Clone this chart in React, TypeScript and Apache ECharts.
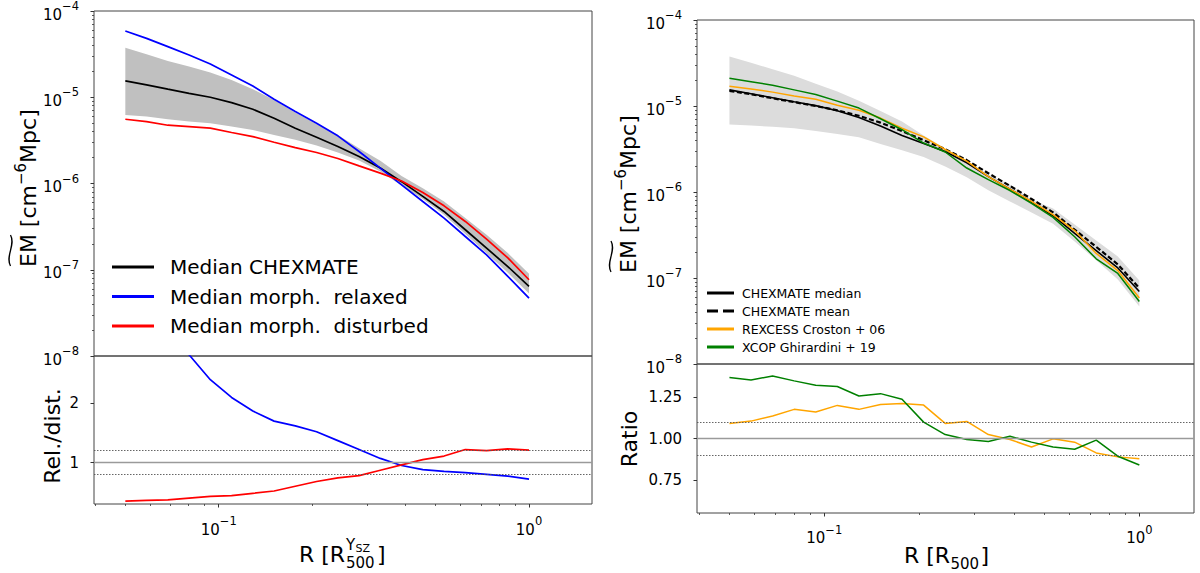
import React, { useEffect, useRef } from 'react';
import * as echarts from 'echarts';

// ---------------- data ----------------
const R_BINS = [0.05, 0.05854, 0.06854, 0.08024, 0.09395, 0.11, 0.1288, 0.1508, 0.1765, 0.2067, 0.242, 0.2833, 0.3317, 0.3884, 0.4547, 0.5324, 0.6233, 0.7298, 0.8545, 1.0];

// left panel, R in R500^YSZ
const L_MEDIAN = [1.55e-5, 1.39e-5, 1.24e-5, 1.11e-5, 1.0e-5, 8.67e-6, 7.26e-6, 5.71e-6, 4.38e-6, 3.44e-6, 2.69e-6, 2.06e-6, 1.51e-6, 1.05e-6, 7.1e-7, 4.74e-7, 2.91e-7, 1.78e-7, 1.09e-7, 6.41e-8];
const L_RELAXED = [5.86e-5, 4.82e-5, 3.86e-5, 3.09e-5, 2.43e-5, 1.81e-5, 1.35e-5, 9.48e-6, 6.83e-6, 5.0e-6, 3.57e-6, 2.35e-6, 1.51e-6, 9.66e-7, 6.19e-7, 3.97e-7, 2.43e-7, 1.49e-7, 8.37e-8, 4.7e-8];
const L_DISTURBED = [5.56e-6, 5.22e-6, 4.74e-6, 4.57e-6, 4.38e-6, 3.9e-6, 3.5e-6, 3.01e-6, 2.61e-6, 2.29e-6, 1.95e-6, 1.6e-6, 1.32e-6, 1.07e-6, 7.87e-7, 5.51e-7, 3.63e-7, 2.27e-7, 1.37e-7, 7.66e-8];
const L_BAND_HI = [3.76e-5, 3.15e-5, 2.64e-5, 2.27e-5, 1.93e-5, 1.59e-5, 1.24e-5, 9.32e-6, 6.64e-6, 4.91e-6, 3.66e-6, 2.57e-6, 1.83e-6, 1.22e-6, 8.83e-7, 6.19e-7, 3.97e-7, 2.54e-7, 1.56e-7, 9.0e-8];
const L_BAND_LO = [6.24e-6, 5.97e-6, 5.56e-6, 5.22e-6, 5.0e-6, 4.57e-6, 4.18e-6, 3.66e-6, 3.21e-6, 2.76e-6, 2.29e-6, 1.85e-6, 1.38e-6, 9.5e-7, 6.6e-7, 4.35e-7, 2.6e-7, 1.55e-7, 9.2e-8, 5.3e-8];
const L_RATIO_RELAXED = [3.78, 3.47, 3.11, 2.82, 2.4, 2.1, 1.87, 1.7, 1.62, 1.52, 1.37, 1.22, 1.07, 0.95, 0.88, 0.85, 0.83, 0.8, 0.77, 0.72];
const L_RATIO_DISTURBED = [0.35, 0.36, 0.37, 0.4, 0.43, 0.44, 0.48, 0.52, 0.6, 0.68, 0.74, 0.78, 0.87, 0.96, 1.05, 1.11, 1.22, 1.2, 1.23, 1.21];

// right panel, R in R500
const R_MEDIAN = [1.54e-5, 1.39e-5, 1.25e-5, 1.12e-5, 1.01e-5, 8.81e-6, 7.36e-6, 5.87e-6, 4.55e-6, 3.67e-6, 2.96e-6, 2.19e-6, 1.51e-6, 1.08e-6, 7.64e-7, 5.3e-7, 3.3e-7, 2.08e-7, 1.31e-7, 6.97e-8];
const R_MEAN = [1.5e-5, 1.37e-5, 1.23e-5, 1.11e-5, 1.0e-5, 8.9e-6, 7.7e-6, 6.4e-6, 5.1e-6, 4.0e-6, 3.15e-6, 2.35e-6, 1.65e-6, 1.18e-6, 8.3e-7, 5.8e-7, 3.65e-7, 2.3e-7, 1.44e-7, 7.6e-8];
const R_REXCESS = [1.7e-5, 1.58e-5, 1.45e-5, 1.31e-5, 1.2e-5, 1.02e-5, 8.93e-6, 7.24e-6, 5.52e-6, 4.37e-6, 3.12e-6, 2.29e-6, 1.51e-6, 1.08e-6, 7.8e-7, 5.47e-7, 3.56e-7, 1.93e-7, 1.22e-7, 5.85e-8];
const R_XCOP = [2.1e-5, 1.92e-5, 1.74e-5, 1.54e-5, 1.36e-5, 1.14e-5, 9.46e-6, 7.11e-6, 5.3e-6, 3.71e-6, 2.92e-6, 1.9e-6, 1.39e-6, 1.04e-6, 7.39e-7, 5.07e-7, 3.02e-7, 1.67e-7, 1.13e-7, 5.33e-8];
const R_BAND_HI = [3.77e-5, 3.19e-5, 2.67e-5, 2.25e-5, 1.81e-5, 1.47e-5, 1.15e-5, 8.77e-6, 6.6e-6, 4.54e-6, 3.21e-6, 2.26e-6, 1.6e-6, 1.22e-6, 8.18e-7, 6.43e-7, 4.19e-7, 2.73e-7, 1.78e-7, 9.35e-8];
const R_BAND_LO = [6.1e-6, 5.93e-6, 5.74e-6, 5.52e-6, 5.12e-6, 4.72e-6, 4.34e-6, 3.62e-6, 3.05e-6, 2.56e-6, 1.98e-6, 1.48e-6, 1.05e-6, 7.78e-7, 5.78e-7, 4.26e-7, 2.65e-7, 1.61e-7, 9.62e-8, 4.67e-8];
const R_RATIO_REXCESS = [1.091, 1.105, 1.136, 1.176, 1.16, 1.2, 1.176, 1.206, 1.211, 1.202, 1.091, 1.103, 1.024, 0.994, 0.949, 0.998, 0.978, 0.913, 0.889, 0.877];
const R_RATIO_XCOP = [1.368, 1.354, 1.377, 1.348, 1.322, 1.314, 1.257, 1.271, 1.237, 1.099, 1.024, 0.994, 0.982, 1.014, 0.978, 0.949, 0.935, 0.99, 0.893, 0.84];

// ticks
const X_MAJOR = [0.1, 1];
const X_MINOR = [0.04, 0.05, 0.06, 0.07, 0.08, 0.09, 0.2, 0.3, 0.4, 0.5, 0.6, 0.7, 0.8, 0.9];
const Y_EXPONENTS = [-8, -7, -6, -5, -4];
const MINOR_MULTS = [2, 3, 4, 5, 6, 7, 8, 9];
const L_RATIO_TICKS = [1, 2];
const R_RATIO_TICKS = [0.75, 1.0, 1.25];
const REF_LINES = [1.0];
const L_BOUNDS = [1.2, 0.8];
const R_BOUNDS = [1.1, 0.9];

// ---------------- helpers ----------------
const FONT = 'DejaVu Sans';
const lg = Math.log10;
const MINUS = '\u2212';

const seriesPts = (ys: number[], logY: boolean) => R_BINS.map((r, i) => [lg(r), logY ? lg(ys[i]) : ys[i]]);

const yMinor: number[] = [];
for (const e of Y_EXPONENTS.slice(0, -1)) for (const m of MINOR_MULTS) yMinor.push(e + lg(m));

const powRich = {
  b: { fontSize: 15, lineHeight: 22, verticalAlign: 'bottom', fontFamily: FONT, color: '#000' },
  s: { fontSize: 11.5, lineHeight: 11.5, verticalAlign: 'top', fontFamily: FONT, color: '#000' },
};
const powFmt = (v: number) => {
  const e = Math.round(v);
  return `{b|10}{s|${e < 0 ? MINUS : ''}${Math.abs(e)}}`;
};

const TICK_COLOR = '#333';
const LABEL_MARGIN = 15;

function xAxesFor(grid: number, min: number, max: number, labels: boolean, margin: number) {
  const base = {
    type: 'value', gridIndex: grid, min, max, position: 'bottom',
    axisLine: { show: false, onZero: false }, splitLine: { show: false },
  };
  if (!labels) {
    return [{ ...base, axisTick: { show: false }, axisLabel: { show: false } }];
  }
  return [
    {
      ...base,
      axisTick: { show: true, length: 3.5, lineStyle: { color: TICK_COLOR, width: 1 }, customValues: X_MAJOR.map(lg) },
      axisLabel: { show: true, customValues: X_MAJOR.map(lg), formatter: powFmt, rich: powRich, margin, showMinLabel: true, showMaxLabel: true },
    },
    {
      ...base,
      axisTick: { show: true, length: 2, lineStyle: { color: TICK_COLOR, width: 0.8 }, customValues: X_MINOR.map(lg) },
      axisLabel: { show: false },
    },
  ];
}

function logYAxes(grid: number, margin: number) {
  return [
    {
      type: 'value', gridIndex: grid, min: -8, max: -4, interval: 1, position: 'left',
      axisLine: { show: false, onZero: false }, splitLine: { show: false },
      axisTick: { show: true, length: 3.5, lineStyle: { color: TICK_COLOR, width: 1 }, customValues: Y_EXPONENTS },
      axisLabel: { show: true, customValues: Y_EXPONENTS, formatter: powFmt, rich: powRich, margin, showMinLabel: true, showMaxLabel: true },
    },
    {
      type: 'value', gridIndex: grid, min: -8, max: -4, interval: 1, position: 'left', offset: 0,
      axisLine: { show: false, onZero: false }, splitLine: { show: false },
      axisTick: { show: true, length: 2, lineStyle: { color: TICK_COLOR, width: 0.8 }, customValues: yMinor },
      axisLabel: { show: false },
    },
  ];
}

function linYAxis(grid: number, min: number, max: number, ticks: number[], fmt: (v: number) => string, margin: number) {
  return {
    type: 'value', gridIndex: grid, min, max, position: 'left',
    axisLine: { show: false, onZero: false }, splitLine: { show: false },
    axisTick: { show: true, length: 3.5, lineStyle: { color: TICK_COLOR, width: 1 }, customValues: ticks },
    axisLabel: {
      show: true, customValues: ticks, formatter: fmt, margin,
      fontSize: 15, fontFamily: FONT, color: '#000', showMinLabel: true, showMaxLabel: true,
    },
  };
}

function lineSeries(name: string, data: number[][], color: string, xi: number, yi: number, width: number, extra: any = {}) {
  return {
    type: 'line', name, data, xAxisIndex: xi, yAxisIndex: yi,
    symbol: 'none', showSymbol: false, silent: true, clip: true, z: 3,
    lineStyle: { color, width, ...(extra.lineStyle || {}) },
    itemStyle: { color },
    ...Object.fromEntries(Object.entries(extra).filter(([k]) => k !== 'lineStyle')),
  };
}

function bandSeries(hi: number[], lo: number[], color: string, xi: number, yi: number) {
  return {
    type: 'custom', name: 'band', xAxisIndex: xi, yAxisIndex: yi, silent: true, z: 1,
    data: R_BINS.map((r, i) => [lg(r), lg(hi[i]), lg(lo[i])]),
    encode: { x: 0, y: [1, 2] },
    renderItem: (params: any, api: any) => {
      if (params.dataIndex !== 0) return null;
      const top = R_BINS.map((r, i) => api.coord([lg(r), lg(hi[i])]));
      const bot = R_BINS.map((r, i) => api.coord([lg(r), lg(lo[i])])).reverse();
      return { type: 'polygon', shape: { points: top.concat(bot) }, style: { fill: color } };
    },
  };
}

function refMarks(bounds: number[]) {
  return {
    symbol: ['none', 'none'], silent: true, label: { show: false }, animation: false,
    data: [
      ...REF_LINES.map((v) => ({ yAxis: v, lineStyle: { color: '#9a9a9a', width: 1.3, type: 'solid' } })),
      ...bounds.map((v) => ({ yAxis: v, lineStyle: { color: '#555', width: 0.9, type: [1.5, 1.5] } })),
    ],
  };
}

function buildOption() {
  const LX = [-1.402, 0.203];
  const RX = [-1.404, 0.1735];
  const grids = [
    { left: 94, top: 11, width: 498, height: 345 },
    { left: 94, top: 356, width: 498, height: 148 },
    { left: 697, top: 20, width: 497, height: 344 },
    { left: 697, top: 364, width: 497, height: 149 },
  ].map((g) => ({ ...g, show: true, borderColor: '#444', borderWidth: 1, backgroundColor: 'transparent', containLabel: false, outerBoundsMode: 'none' }));

  // x axes: 0 (grid0), 1-2 (grid1), 3 (grid2), 4-5 (grid3)
  const xAxis = [
    ...xAxesFor(0, LX[0], LX[1], false, 0),
    ...xAxesFor(1, LX[0], LX[1], true, 11),
    ...xAxesFor(2, RX[0], RX[1], false, 0),
    ...xAxesFor(3, RX[0], RX[1], true, 10.5),
  ];
  // y axes: 0-1 (grid0), 2 (grid1), 3-4 (grid2), 5 (grid3)
  const yAxis = [
    ...logYAxes(0, LABEL_MARGIN),
    linYAxis(1, 0.3, 2.8, L_RATIO_TICKS, (v) => String(Math.round(v)), LABEL_MARGIN),
    ...logYAxes(2, LABEL_MARGIN),
    linYAxis(3, 0.55, 1.45, R_RATIO_TICKS, (v) => v.toFixed(2), LABEL_MARGIN),
  ];

  const series = [
    bandSeries(L_BAND_HI, L_BAND_LO, '#c0c0c0', 0, 0),
    lineSeries('Median CHEXMATE', seriesPts(L_MEDIAN, true), '#000000', 0, 0, 1.7),
    lineSeries('Median morph.  relaxed', seriesPts(L_RELAXED, true), '#0000ff', 0, 0, 1.7),
    lineSeries('Median morph.  disturbed', seriesPts(L_DISTURBED, true), '#ff0000', 0, 0, 1.7),

    lineSeries('Relaxed / median', seriesPts(L_RATIO_RELAXED, false), '#0000ff', 1, 2, 1.7, { markLine: refMarks(L_BOUNDS) }),
    lineSeries('Disturbed / median', seriesPts(L_RATIO_DISTURBED, false), '#ff0000', 1, 2, 1.7),

    bandSeries(R_BAND_HI, R_BAND_LO, '#dcdcdc', 3, 3),
    lineSeries('CHEXMATE median', seriesPts(R_MEDIAN, true), '#000000', 3, 3, 1.6),
    lineSeries('CHEXMATE mean', seriesPts(R_MEAN, true), '#000000', 3, 3, 2.2, { lineStyle: { type: [5, 2.5] } }),
    lineSeries('REXCESS Croston + 06', seriesPts(R_REXCESS, true), '#ffa500', 3, 3, 1.5),
    lineSeries('XCOP Ghirardini + 19', seriesPts(R_XCOP, true), '#008000', 3, 3, 1.5),

    lineSeries('REXCESS / CHEXMATE', seriesPts(R_RATIO_REXCESS, false), '#ffa500', 4, 5, 1.5, { markLine: refMarks(R_BOUNDS) }),
    lineSeries('XCOP / CHEXMATE', seriesPts(R_RATIO_XCOP, false), '#008000', 4, 5, 1.5),
  ];

  const legend = [
    {
      left: 112, top: 257, orient: 'vertical', padding: 0,
      itemWidth: 42, itemHeight: 3, itemGap: 9.5, selectedMode: false,
      textStyle: { fontSize: 20, fontFamily: FONT, color: '#000', lineHeight: 20, padding: [0, 0, 0, 11] },
      data: [
        { name: 'Median CHEXMATE', icon: 'rect', itemStyle: { color: '#000000' } },
        { name: 'Median morph.  relaxed', icon: 'rect', itemStyle: { color: '#0000ff' } },
        { name: 'Median morph.  disturbed', icon: 'rect', itemStyle: { color: '#ff0000' } },
      ],
    },
    {
      left: 707, top: 286.5, orient: 'vertical', padding: 0,
      itemWidth: 27, itemHeight: 3, itemGap: 5, selectedMode: false,
      textStyle: { fontSize: 12.5, fontFamily: FONT, color: '#000', lineHeight: 13, padding: [0, 0, 0, 3] },
      data: [
        { name: 'CHEXMATE median', icon: 'rect', itemStyle: { color: '#000000' } },
        { name: 'CHEXMATE mean', icon: 'path://M0,0h11v3h-11z M16,0h11v3h-11z', itemStyle: { color: '#000000' } },
        { name: 'REXCESS Croston + 06', icon: 'rect', itemStyle: { color: '#ffa500' } },
        { name: 'XCOP Ghirardini + 19', icon: 'rect', itemStyle: { color: '#008000' } },
      ],
    },
  ];

  const titleRich = {
    n: { fontSize: 22, lineHeight: 26, verticalAlign: 'bottom', fontFamily: FONT, fill: '#000' },
    s: { fontSize: 15, lineHeight: 15, verticalAlign: 'top', fontFamily: FONT, fill: '#000' },
  };
  const emTitle = (x: number, y: number) => ({
    type: 'group', x, y, rotation: Math.PI / 2, silent: true,
    children: [
      {
        type: 'text', x: 0, y: 0,
        style: { text: `{n|EM [cm}{s|${MINUS}6}{n|Mpc]}`, rich: titleRich, align: 'left', verticalAlign: 'middle', fill: '#000', font: `22px ${FONT}` },
      },
      {
        type: 'bezierCurve',
        shape: { x1: 1, y1: -15.5, cpx1: 11, cpy1: -21, cpx2: 22, cpy2: -10, x2: 32, y2: -15.5 },
        style: { stroke: '#000', lineWidth: 1.3, fill: null },
      },
    ],
  });
  const vText = (x: number, y: number, text: string) => ({
    type: 'text', x, y, rotation: Math.PI / 2, silent: true,
    style: { text, font: `22px ${FONT}`, fill: '#000', align: 'center', verticalAlign: 'middle' },
  });
  const t = (x: number, y: number, text: string, size: number) => ({
    type: 'text', x, y, silent: true,
    style: { text, font: `${size}px ${FONT}`, fill: '#000', align: 'left', verticalAlign: 'middle' },
  });

  const graphic = [
    emTitle(26, 267),
    emTitle(626.5, 273),
    vText(52, 436, 'Rel./dist.'),
    vText(629, 439, 'Ratio'),
    // left x title: R [R_500^{Y_SZ}]
    t(299, 554, 'R [R', 22),
    t(346, 563, '500', 15),
    t(346, 545, 'Y', 15),
    t(355.5, 548.5, 'SZ', 11),
    t(377, 554, ']', 22),
    // right x title: R [R_500]
    t(904, 555, 'R [R', 22),
    t(950.5, 564, '500', 15),
    t(980.5, 555, ']', 22),
  ];

  return {
    animation: false,
    backgroundColor: '#ffffff',
    textStyle: { fontFamily: FONT },
    grid: grids,
    xAxis,
    yAxis,
    legend,
    series,
    graphic,
  };
}

export default function App() {
  const ref = useRef<HTMLDivElement>(null);
  useEffect(() => {
    document.body.style.margin = '0';
    if (!ref.current) return;
    const chart = echarts.init(ref.current, null, { renderer: 'svg', width: 1200, height: 573 });
    chart.setOption(buildOption() as any);
    return () => chart.dispose();
  }, []);
  return <div ref={ref} style={{ width: 1200, height: 573, position: 'absolute', left: 0, top: 0, background: '#fff' }} />;
}
